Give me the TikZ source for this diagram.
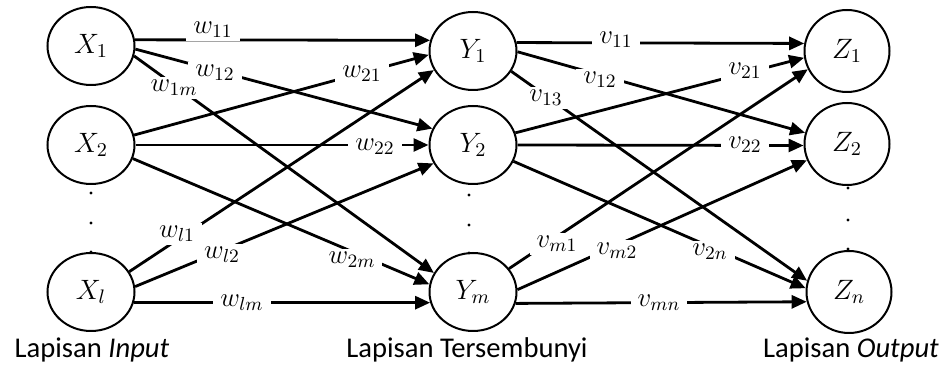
\RequirePackage{fix-cm}
\documentclass[tikz,border=0pt]{standalone}
\usepackage{fontspec}
\setmainfont{Carlito}
\usetikzlibrary{arrows.meta,shapes.geometric}

\begin{document}
\begin{tikzpicture}[
  x=0.5pt, y=-0.5pt,
  neuron/.style={ellipse, draw, line width=1pt, inner sep=0pt,
                 minimum width=43.5pt, minimum height=39pt,
                 font=\fontsize{14}{16}\selectfont},
  oneuron/.style={neuron, minimum width=42.5pt, minimum height=41pt},
  arr/.style={-{Triangle[length=7.5pt, width=6.5pt]}, line width=1.4pt},
  wlbl/.style={fill=white, inner xsep=3.5pt, inner ysep=1.5pt,
               font=\fontsize{13.5}{15}\selectfont},
  layer/.style={anchor=base, font=\fontsize{14.3}{16}\selectfont}
]
\useasboundingbox (0,0) rectangle (948,367);
\node[neuron] (X1) at (91,46) {$X_1$};
\node[neuron] (X2) at (91,145) {$X_2$};
\node[neuron] (Xl) at (91,292) {$X_l$};
\node[neuron] (Y1) at (473,51) {$Y_1$};
\node[neuron] (Y2) at (473,145) {$Y_2$};
\node[neuron] (Ym) at (473,292) {$Y_m$};
\node[oneuron] (Z1) at (847,51) {$Z_1$};
\node[oneuron] (Z2) at (847,144) {$Z_2$};
\node[oneuron] (Zn) at (849,292) {$Z_n$};

\foreach \x/\a/\b/\c in {91/193/223/252, 469/195/225/253, 848/188/220/249}
  \foreach \y in {\a,\b,\c}
    \fill (\x,\y) circle (0.8pt);

\draw[arr] (X1.8) -- (Y1.166);
\draw[arr] (X1.-4) -- (Y2.158);
\draw[arr] (X1.-13) -- (Ym.154);
\draw[arr] (X2.13) -- (Y1.185);
\draw[arr] (X2.0) -- (Y2.180);
\draw[arr] (X2.-18) -- (Ym.170);
\draw[arr] (Xl.28) -- (Y1.206);
\draw[arr] (Xl.7) -- (Y2.205);
\draw[arr] (Xl.-14) -- (Ym.194);

\draw[arr] (Y1.11) -- (Z1.170);
\draw[arr] (Y1.-1) -- (Z2.165);
\draw[arr] (Y1.-28) -- (Zn.165);
\draw[arr] (Y2.16) -- (Z1.189);
\draw[arr] (Y2.0) -- (Z2.182);
\draw[arr] (Y2.-22) -- (Zn.175);
\draw[arr] (Ym.33) -- (Z1.205);
\draw[arr] (Ym.3) -- (Z2.202);
\draw[arr] (Ym.-15) -- (Zn.193);

\node[wlbl] (w11) at (213,30) {$w_{11}$};
\node[wlbl] (w12) at (215,73) {$w_{12}$};
\node[wlbl] (w1m) at (174,88) {$w_{1m}$};
\node[wlbl] (w21) at (362,74) {$w_{21}$};
\node[wlbl] (w22) at (375,147) {$w_{22}$};
\node[wlbl] (wl1) at (177,234) {$w_{l1}$};
\node[wlbl] (wl2) at (222,255) {$w_{l2}$};
\node[wlbl] (w2m) at (352,260) {$w_{2m}$};
\node[wlbl] (wlm) at (242,303) {$w_{lm}$};

\node[wlbl] (v11) at (616,40) {$v_{11}$};
\node[wlbl] (v12) at (600,80) {$v_{12}$};
\node[wlbl] (v13) at (546,98) {$v_{13}$};
\node[wlbl] (v21) at (745,71) {$v_{21}$};
\node[wlbl] (v22) at (745,145) {$v_{22}$};
\node[wlbl] (vm1) at (557,244) {$v_{m1}$};
\node[wlbl] (vm2) at (617,251) {$v_{m2}$};
\node[wlbl] (v2n) at (710,252) {$v_{2n}$};
\node[wlbl] (vmn) at (659,303) {$v_{mn}$};

\node[layer] (Lin) at (92,358) {Lapisan \textit{Input}};
\node[layer] (Lhid) at (467,358) {Lapisan Tersembunyi};
\node[layer] (Lout) at (851,358) {Lapisan \textit{Output}};
\end{tikzpicture}
\end{document}
